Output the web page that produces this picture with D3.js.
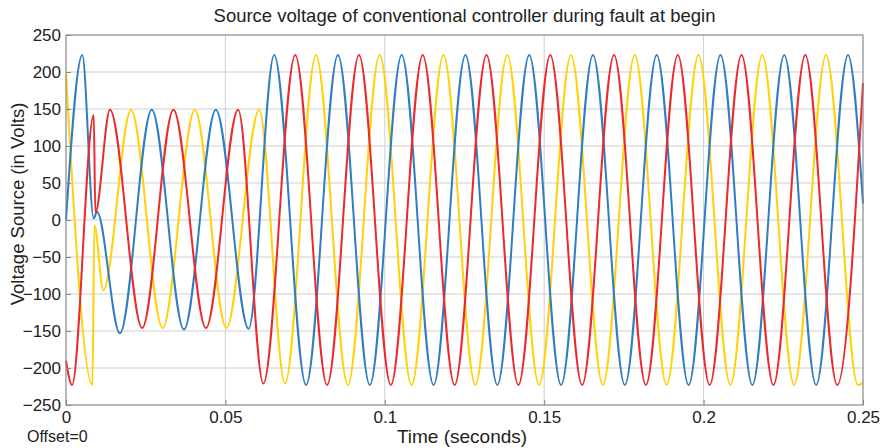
<!DOCTYPE html>
<html>
<head>
<meta charset="utf-8">
<script src="https://cdn.jsdelivr.net/npm/d3@7"></script>
<style>
    html, body { margin: 0; padding: 0; background: #fff; }
    svg text { font-family: "Liberation Sans", Arial, Helvetica, sans-serif; fill: #222; }
</style>
</head>
<body>
<div id="chart"></div>
<script>
// extrema / turning points: [time (s), volts]
const phaseBlue = [
    [0, 0], [0.0051, 223], [0.0087, 2], [0.0097, 11], [0.0169, -153],
    [0.0269, 149], [0.0370, -148], [0.0470, 149], [0.0573, -147],
    [0.0653, 223], [0.0753, -223], [0.0853, 223], [0.0953, -223], [0.1053, 223],
    [0.1153, -223], [0.1253, 223], [0.1353, -223], [0.1453, 223], [0.1553, -223],
    [0.1653, 223], [0.1753, -223], [0.1853, 223], [0.1953, -223], [0.2053, 223],
    [0.2153, -223], [0.2253, 223], [0.2353, -223], [0.2453, 223], [0.25, 22]
];
const phaseRed = [
    [0, -190], [0.0019, -223], [0.0087, 142], [0.0092, 10], [0.0138, 149],
    [0.0239, -146], [0.0337, 149], [0.0439, -146], [0.0540, 149],
    [0.0619, -221], [0.0719, 223], [0.0819, -223], [0.0919, 223], [0.1019, -223],
    [0.1119, 223], [0.1219, -223], [0.1319, 223], [0.1419, -223], [0.1519, 223],
    [0.1619, -223], [0.1719, 223], [0.1819, -223], [0.1919, 223], [0.2019, -223],
    [0.2119, 223], [0.2219, -223], [0.2319, 223], [0.2419, -223], [0.25, 185]
];
const phaseYellow = [
    [0, 198], [0.0083, -223], [0.0089, -7], [0.0117, -95], [0.0204, 149],
    [0.0303, -146], [0.0404, 149], [0.0503, -146], [0.0606, 149],
    [0.0687, -221], [0.0784, 223], [0.0884, -223], [0.0984, 223], [0.1084, -223],
    [0.1184, 223], [0.1284, -223], [0.1384, 223], [0.1484, -223], [0.1584, 223],
    [0.1684, -223], [0.1784, 223], [0.1884, -223], [0.1984, 223], [0.2084, -223],
    [0.2184, 223], [0.2284, -223], [0.2384, 223], [0.2484, -223], [0.25, -220]
];

const xTicks = [0, 0.05, 0.1, 0.15, 0.2, 0.25];
const yTicks = [-250, -200, -150, -100, -50, 0, 50, 100, 150, 200, 250];

const series = [
    { name: 'yellow', color: '#ffd20a', data: phaseYellow },
    { name: 'blue', color: '#2f7dc3', data: phaseBlue },
    { name: 'red', color: '#ea2a2e', data: phaseRed }
];

const width = 880, height = 448;
const margin = { top: 35, right: 17, bottom: 43, left: 66 };

const svg = d3.select('#chart').append('svg')
    .attr('width', width)
    .attr('height', height);

const x = d3.scaleLinear().domain([0, 0.25]).range([margin.left, width - margin.right]);
const y = d3.scaleLinear().domain([-250, 250]).range([height - margin.bottom, margin.top]);

// grid
svg.append('g')
    .selectAll('line')
    .data(xTicks)
    .join('line')
    .attr('x1', d => x(d)).attr('x2', d => x(d))
    .attr('y1', y(-250)).attr('y2', y(250))
    .attr('stroke', '#cfcfcf').attr('stroke-width', 1);

svg.append('g')
    .selectAll('line')
    .data(yTicks)
    .join('line')
    .attr('x1', x(0)).attr('x2', x(0.25))
    .attr('y1', d => y(d)).attr('y2', d => y(d))
    .attr('stroke', '#cfcfcf').attr('stroke-width', 1);

// traces
const line = d3.line()
    .x(d => x(d[0]))
    .y(d => y(d[1]))
    .curve(d3.curveMonotoneX);

svg.append('g')
    .selectAll('path')
    .data(series)
    .join('path')
    .attr('fill', 'none')
    .attr('stroke', d => d.color)
    .attr('stroke-width', 2)
    .attr('d', d => line(d.data));

// axes
const xAxis = svg.append('g')
    .attr('transform', `translate(0,${y(-250)})`)
    .call(d3.axisBottom(x).tickValues(xTicks).tickSizeInner(-5).tickSizeOuter(0).tickPadding(6)
        .tickFormat(d => d === 0 ? '0' : String(d)));

const yAxis = svg.append('g')
    .attr('transform', `translate(${x(0)},0)`)
    .call(d3.axisLeft(y).tickValues(yTicks).tickSizeInner(-5).tickSizeOuter(0).tickPadding(5));

[xAxis, yAxis].forEach(g => {
    g.select('.domain').remove();
    g.selectAll('line').attr('stroke', '#888');
    g.selectAll('text').attr('font-size', 17).attr('fill', '#222')
        .attr('font-family', '"Liberation Sans", Arial, sans-serif');
});

// box
svg.append('rect')
    .attr('x', x(0)).attr('y', y(250))
    .attr('width', x(0.25) - x(0)).attr('height', y(-250) - y(250))
    .attr('fill', 'none').attr('stroke', '#8a8a8a').attr('stroke-width', 1);

// labels
svg.append('text')
    .attr('x', (x(0) + x(0.25)) / 2).attr('y', 22)
    .attr('text-anchor', 'middle').attr('font-size', 18.5)
    .text('Source voltage of conventional controller during fault at begin');

svg.append('text')
    .attr('x', 462).attr('y', 443)
    .attr('text-anchor', 'middle').attr('font-size', 19)
    .text('Time (seconds)');

svg.append('text')
    .attr('transform', 'translate(24,204) rotate(-90)')
    .attr('text-anchor', 'middle').attr('font-size', 18.5)
    .text('Voltage Source (in Volts)');

svg.append('text')
    .attr('x', 27).attr('y', 442)
    .attr('font-size', 16)
    .text('Offset=0');
</script>
</body>
</html>
